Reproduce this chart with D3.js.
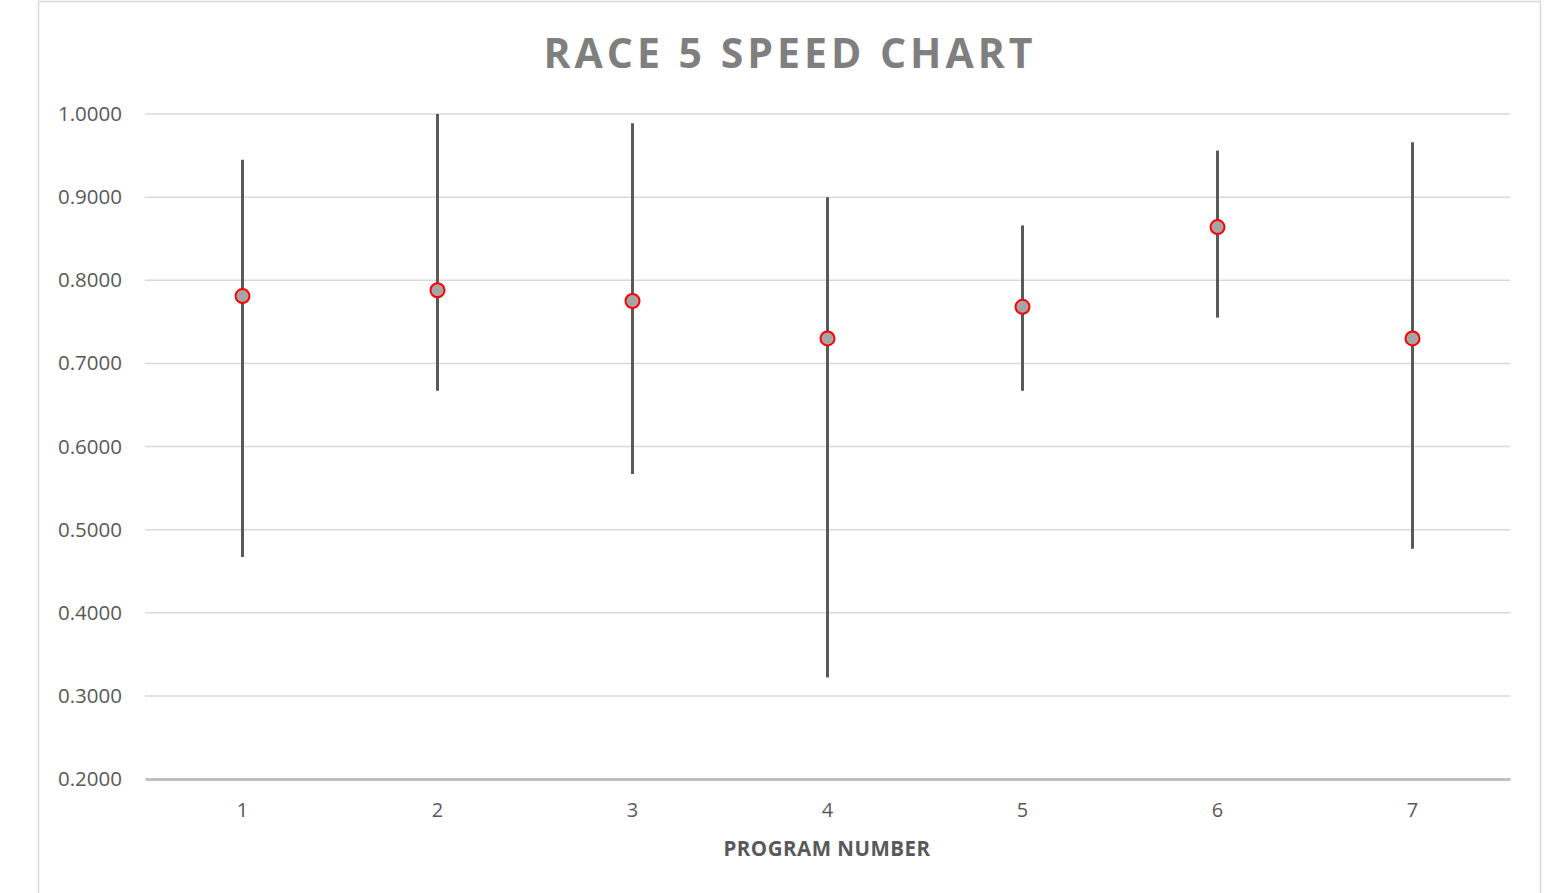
<!DOCTYPE html>
<html><head><meta charset="utf-8">
<script src="https://cdn.jsdelivr.net/npm/d3@7/dist/d3.min.js"></script>
<style>body{margin:0;background:#fff;}svg{display:block;}</style>
</head><body>
<svg id="c" width="1567" height="893"></svg>
<script>
const programs = ["1","2","3","4","5","6","7"];
const avgSpeed = [0.781, 0.788, 0.775, 0.730, 0.768, 0.864, 0.730];
const highSpeed = [0.945, 1.000, 0.989, 0.900, 0.866, 0.956, 0.966];
const lowSpeed = [0.467, 0.667, 0.567, 0.322, 0.667, 0.755, 0.477];
const yTicks = [0.2,0.3,0.4,0.5,0.6,0.7,0.8,0.9,1.0];

const svg = d3.select("#c");
const font = "'Open Sans', 'Liberation Sans', sans-serif";
// chart border
svg.append("rect").attr("x",38.5).attr("y",1.5).attr("width",1502).attr("height",900)
  .attr("fill","none").attr("stroke","#d9d9d9").attr("stroke-width",1.5);

const x = d3.scaleBand().domain(programs).range([145,1510]);
const y = d3.scaleLinear().domain([0.2,1.0]).range([779,114]);

// gridlines
svg.append("g").selectAll("line").data(yTicks.filter(t=>t>0.2)).join("line")
  .attr("x1",145).attr("x2",1510).attr("y1",d=>y(d)).attr("y2",d=>y(d))
  .attr("stroke","#d9d9d9").attr("stroke-width",1.5);

// y axis
const ya = svg.append("g").attr("transform","translate(145,0)")
  .call(d3.axisLeft(y).tickValues(yTicks).tickFormat(d3.format(".4f")).tickSize(0).tickPadding(23));
ya.select(".domain").remove();
ya.selectAll("text").attr("font-family",font).attr("font-size",20.5).attr("fill","#595959");

// x axis
const xa = svg.append("g").attr("transform","translate(0,779)")
  .call(d3.axisBottom(x).tickSize(0).tickPadding(24));
xa.select(".domain").attr("stroke","#bfbfbf").attr("stroke-width",3);
xa.selectAll("text").attr("font-family",font).attr("font-size",20).attr("fill","#595959");

// error bars
const data = programs.map((p,i)=>({p, avg:avgSpeed[i], hi:highSpeed[i], lo:lowSpeed[i]}));
svg.append("g").selectAll("line").data(data).join("line")
  .attr("x1",d=>x(d.p)+x.bandwidth()/2).attr("x2",d=>x(d.p)+x.bandwidth()/2)
  .attr("y1",d=>y(d.hi)).attr("y2",d=>y(d.lo))
  .attr("stroke","#595959").attr("stroke-width",3);

svg.append("g").selectAll("circle").data(data).join("circle")
  .attr("cx",d=>x(d.p)+x.bandwidth()/2).attr("cy",d=>y(d.avg)).attr("r",7)
  .attr("fill","#a5a5a5").attr("stroke","#ff0000").attr("stroke-width",2);

// title
svg.append("text").attr("x",790).attr("y",68).attr("text-anchor","middle")
  .attr("font-family",font).attr("font-weight","bold").attr("font-size",41)
  .attr("letter-spacing","4px").attr("fill","#7f7f7f").text("RACE 5 SPEED CHART");

// x axis title
svg.append("text").attr("x",827).attr("y",856).attr("text-anchor","middle")
  .attr("font-family",font).attr("font-weight","bold").attr("font-size",20.5)
  .attr("letter-spacing","0.5px").attr("fill","#595959").text("PROGRAM NUMBER");
</script>
</body></html>
